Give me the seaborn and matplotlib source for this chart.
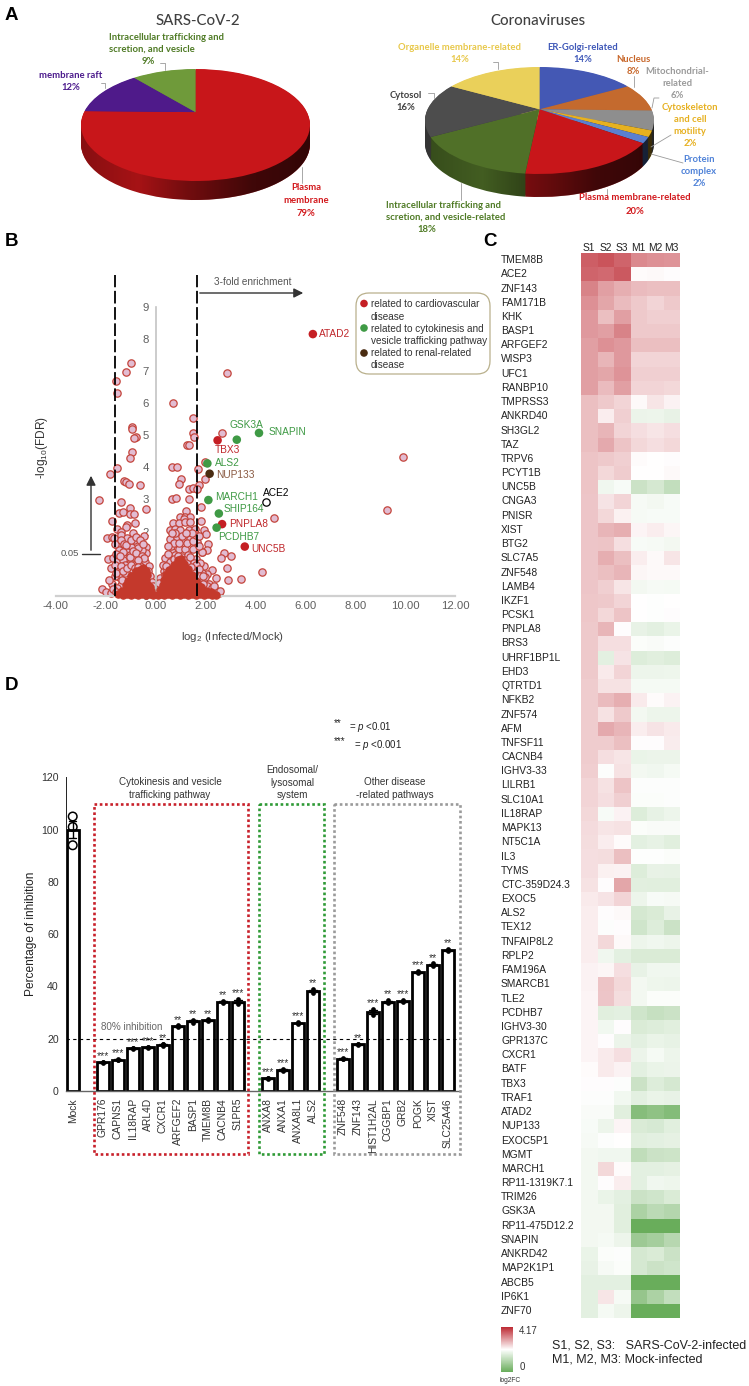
import numpy as np
import pandas as pd
import matplotlib
matplotlib.use("Agg")
import matplotlib.pyplot as plt
import seaborn as sns
from matplotlib.colors import LinearSegmentedColormap, to_rgb
from matplotlib.patches import Rectangle, FancyBboxPatch, PathPatch
from matplotlib.path import Path

# ---------- panel A data
sars_labels = ["Plasma membrane", "membrane raft", "Intracellular trafficking"]
sars_values = [79, 12, 9]
sars_colors = ["#c8161a", "#4f1a8a", "#6f9a3a"]
cov_labels = ["ER-Golgi", "Nucleus", "Mitochondrial", "Cytoskeleton", "Protein complex",
              "Plasma membrane", "Intracellular", "Cytosol", "Organelle"]
cov_values = [14, 8, 6, 2, 2, 20, 18, 16, 14]
cov_colors = ["#4458b4", "#c46a2e", "#8e8e8e", "#e6b120", "#5a80d0",
              "#c8161a", "#507028", "#4d4d4d", "#ead05a"]

# ---------- panel B data
sparse_pts = [
    (-1.0, 7.24), (-1.19, 6.98), (-1.59, 6.69), (-1.57, 6.31), (-0.94, 5.24), (-0.94, 5.2), (-0.8, 4.94),
    (-0.88, 4.9), (-0.96, 4.47), (-1.02, 4.3), (-1.54, 3.99), (-1.85, 3.79), (-1.29, 3.58), (-1.2, 3.55),
    (-1.06, 3.47), (-0.64, 3.45), (-2.28, 2.99), (-1.39, 2.93), (-1.02, 2.74), (-0.39, 2.69), (-1.46, 2.59),
    (-1.3, 2.6), (-1.04, 2.54), (-0.87, 2.54), (-1.77, 2.33), (-0.82, 2.27), (-1.15, 2.2), (-1.55, 2.08),
    (-1.2, 2.13), (-1.97, 1.81), (-1.74, 1.82), (-1.39, 1.99), (-0.92, 1.94), (-1.68, 1.81), (-1.41, 1.89),
    (-1.15, 1.81), (-0.48, 1.86), (-1.55, 1.58), (-1.48, 1.42), (-1.08, 1.54), (-0.95, 1.52), (-1.92, 1.13),
    (-1.72, 1.19), (-1.51, 1.08), (-1.32, 1.11), (-1.78, 0.87), (-1.48, 0.8), (-1.75, 0.38), (-1.48, 0.59),
    (-1.15, 1.37), (-0.75, 1.63), (-0.41, 1.52), (-0.41, 1.32), (-0.68, 1.26), (-1.41, 0.33), (-1.08, 1.0),
    (-0.81, 1.0), (-2.15, 0.21), (-1.98, 0.12), (-1.81, 0.07), (-1.25, 0.72), (-1.02, 1.28), (-0.88, 1.22),
    (-0.58, 1.1), (-0.42, 1.05), (-0.55, 1.42), (-0.7, 1.48), (-0.28, 0.92), (-1.62, 0.62), (-1.55, 0.24),
    (-0.86, 1.72), (-0.62, 0.92), (-0.95, 0.82), (-1.22, 0.95), (-1.35, 0.5),
    (-1.62, 1.62), (-1.38, 1.75), (-1.28, 1.62), (-1.18, 1.58), (-0.98, 1.72), (-0.78, 1.82), (-0.62, 1.72),
    (-0.52, 1.62), (-1.3, 1.35), (-1.05, 1.2), (-0.92, 1.38), (-0.78, 1.32), (-0.55, 1.25), (-0.47, 1.18),
    (-0.72, 1.12), (-1.6, 1.3), (-1.42, 1.25), (-1.65, 0.95), (-1.58, 0.72), (-1.38, 0.92), (-1.3, 0.78),
    (-1.15, 0.85), (-0.98, 0.95), (-0.85, 0.85), (-0.7, 0.9), (-0.3, 0.78), (-0.23, 0.62), (-0.14, 0.42),
    (-0.1, 0.3), (-1.88, 0.5), (-1.7, 0.2), (-1.6, 0.1),
    (0.71, 5.99), (2.86, 6.95), (1.51, 5.53), (1.51, 5.08), (1.53, 4.93), (2.65, 5.07), (1.26, 4.7),
    (1.34, 4.7), (1.97, 4.18), (0.64, 4.0), (0.84, 4.0), (1.69, 3.94), (1.0, 3.62), (1.97, 3.63),
    (0.92, 3.47), (1.74, 3.45), (1.34, 3.32), (1.49, 3.36), (1.66, 3.31), (0.67, 3.02), (0.83, 3.05),
    (1.34, 3.01), (1.81, 2.75), (1.22, 2.65), (0.98, 2.46), (1.16, 2.46), (1.39, 2.46), (4.75, 2.43),
    (9.28, 2.66), (9.92, 4.31), (4.28, 0.74), (3.41, 0.51), (2.88, 0.49), (2.85, 0.87), (3.0, 1.24),
    (2.74, 1.32), (2.6, 1.18), (2.1, 1.6), (2.06, 1.42), (1.85, 1.35), (1.81, 2.33), (1.13, 2.38),
    (0.7, 2.27), (0.92, 2.25), (1.19, 2.3), (1.39, 2.3), (0.56, 2.04), (0.79, 2.09), (0.99, 2.04),
    (1.33, 2.06), (1.59, 2.09), (1.93, 2.04), (0.59, 1.78), (0.86, 1.83), (1.13, 1.73), (1.39, 1.78),
    (1.66, 1.68), (1.86, 1.37), (2.0, 1.92), (0.39, 1.16), (0.66, 1.37), (0.92, 1.47), (1.19, 1.47),
    (1.5, 1.47), (0.59, 1.06), (0.32, 0.76), (0.19, 0.54), (0.46, 0.8), (1.66, 0.85), (1.93, 0.92),
    (2.26, 0.8), (2.06, 0.69), (2.4, 0.54), (2.13, 0.38), (2.53, 0.07), (2.33, 0.09), (2.0, 0.22),
    (1.79, 0.48), (2.46, 0.15), (2.57, 0.16), (2.2, 0.14), (0.78, 1.28), (1.05, 1.22), (1.3, 1.27),
    (1.45, 1.12), (1.62, 1.15), (1.77, 1.02), (1.98, 0.58), (1.84, 0.72), (0.5, 1.3), (0.25, 0.3),
    (0.28, 0.95), (0.42, 0.92), (0.38, 0.65), (0.15, 0.4), (0.75, 1.15), (0.9, 1.25), (1.02, 1.1),
    (1.15, 1.1), (1.25, 1.02), (1.38, 1.2), (1.52, 1.02), (1.6, 0.95), (1.75, 0.82), (1.72, 0.62),
    (1.9, 0.62), (1.55, 0.7), (1.42, 0.88), (0.6, 1.55), (0.75, 1.65), (0.95, 1.65), (1.05, 1.85),
    (1.25, 1.65), (1.5, 1.7), (1.62, 1.9), (1.75, 1.85), (1.72, 1.55), (1.45, 1.95), (1.22, 1.95),
    (0.78, 1.95), (0.65, 1.95), (0.48, 1.55), (2.05, 0.3), (2.25, 0.25), (2.35, 0.3), (1.9, 0.35), (2.1, 0.12),
]
dense_pts = [
    (-1.5, 0.04), (-1.32, 0.02), (-1.16, 0.05), (-1.0, 0.03), (-0.85, 0.06), (-0.7, 0.03), (-0.55, 0.05), (-0.4, 0.02),
    (-0.25, 0.05), (-0.12, 0.03), (-1.25, 0.14), (-1.08, 0.2), (-0.92, 0.17), (-0.77, 0.2), (-0.62, 0.16), (-0.47, 0.2),
    (-0.32, 0.17), (-0.18, 0.16), (-1.02, 0.33), (-0.86, 0.36), (-0.72, 0.33), (-0.58, 0.36), (-0.44, 0.32), (-0.3, 0.34),
    (-0.22, 0.28), (-0.94, 0.48), (-0.78, 0.5), (-0.65, 0.5), (-0.52, 0.52), (-0.38, 0.5), (-0.72, 0.65), (-0.6, 0.68),
    (-0.48, 0.7), (-0.36, 0.64), (-1.35, 0.15), (-1.18, 0.32), (-1.1, 0.45), (-1.0, 0.62), (-0.85, 0.65), (-0.8, 0.78),
    (-0.62, 0.8), (-0.5, 0.85), (-0.4, 0.78),
    (0.08, 0.03), (0.2, 0.05), (0.34, 0.03), (0.5, 0.05), (0.66, 0.02), (0.82, 0.05), (0.98, 0.03), (1.14, 0.05),
    (1.3, 0.02), (1.46, 0.05), (1.62, 0.03), (1.78, 0.05), (1.95, 0.02), (2.1, 0.05), (2.25, 0.03), (2.4, 0.02),
    (0.18, 0.17), (0.32, 0.2), (0.47, 0.17), (0.62, 0.2), (0.78, 0.16), (0.94, 0.2), (1.1, 0.17), (1.26, 0.2),
    (1.42, 0.16), (1.58, 0.2), (1.74, 0.17), (1.88, 0.15), (0.3, 0.34), (0.45, 0.36), (0.6, 0.33), (0.75, 0.37),
    (0.9, 0.33), (1.06, 0.36), (1.22, 0.33), (1.38, 0.36), (1.54, 0.32), (1.68, 0.32), (0.42, 0.5), (0.58, 0.52),
    (0.73, 0.49), (0.88, 0.52), (1.04, 0.49), (1.2, 0.52), (1.36, 0.49), (1.5, 0.5), (0.52, 0.66), (0.68, 0.68),
    (0.84, 0.65), (1.0, 0.68), (1.16, 0.65), (1.32, 0.66), (0.66, 0.82), (0.82, 0.82), (0.98, 0.84), (1.14, 0.81),
    (0.86, 0.98), (1.0, 1.0), (0.35, 0.5), (0.4, 0.65), (0.55, 0.8), (0.72, 0.95), (1.0, 1.15), (1.15, 0.98),
    (1.3, 0.82), (1.45, 0.65), (1.62, 0.45), (1.8, 0.28), (2.0, 0.15), (2.2, 0.12), (0.9, 1.12),
]
marked_genes = ["ATAD2", "TBX3", "PNPLA8", "UNC5B", "SNAPIN", "GSK3A", "ALS2", "MARCH1", "SHIP164", "PCDHB7", "NUP133"]
marked_x = [6.3, 2.48, 2.66, 3.57, 4.14, 3.25, 2.07, 2.11, 2.53, 2.44, 2.16]
marked_y = [8.15, 4.84, 2.23, 1.53, 5.07, 4.86, 4.12, 2.98, 2.56, 2.12, 3.8]
marked_group = ["cardio", "cardio", "cardio", "cardio", "cyto", "cyto", "cyto", "cyto", "cyto", "cyto", "renal"]
ace2_x = [4.42]
ace2_y = [2.91]

# ---------- panel C data, signed percent of the colour scale (0 = white)
genes = ["TMEM8B", "ACE2", "ZNF143", "FAM171B", "KHK", "BASP1", "ARFGEF2", "WISP3", "UFC1", "RANBP10", "TMPRSS3",
         "ANKRD40", "SH3GL2", "TAZ", "TRPV6", "PCYT1B", "UNC5B", "CNGA3", "PNISR", "XIST", "BTG2", "SLC7A5", "ZNF548",
         "LAMB4", "IKZF1", "PCSK1", "PNPLA8", "BRS3", "UHRF1BP1L", "EHD3", "QTRTD1", "NFKB2", "ZNF574", "AFM",
         "TNFSF11", "CACNB4", "IGHV3-33", "LILRB1", "SLC10A1", "IL18RAP", "MAPK13", "NT5C1A", "IL3", "TYMS",
         "CTC-359D24.3", "EXOC5", "ALS2", "TEX12", "TNFAIP8L2", "RPLP2", "FAM196A", "SMARCB1", "TLE2", "PCDHB7",
         "IGHV3-30", "GPR137C", "CXCR1", "BATF", "TBX3", "TRAF1", "ATAD2", "NUP133", "EXOC5P1", "MGMT", "MARCH1",
         "RP11-1319K7.1", "TRIM26", "GSK3A", "RP11-475D12.2", "SNAPIN", "ANKRD42", "MAP2K1P1", "ABCB5", "IP6K1", "ZNF70"]
S1 = [75, 72, 58, 52, 48, 48, 45, 45, 45, 45, 30, 30, 30, 30, 28, 28, 28, 27, 27, 27, 27, 27, 27, 27, 26, 26, 25, 25, 25, 25, 24, 24, 24, 24, 24, 24, 23, 20, 20, 18, 17, 16, 15, 15, 14, 10, 8, 8, 8, 8, 6, 6, 5, 5, 5, 5, 5, 2, 1, -2, -4, -5, -6, -8, -8, -8, -8, -8, -8, -8, -14, -15, -18, -18, -18]
S2 = [80, 70, 45, 42, 30, 45, 52, 35, 42, 32, 25, 8, 35, 40, 25, 18, -10, 13, 18, 35, 28, 38, 30, 22, 25, 18, 35, 15, -18, 10, 14, 32, 14, 40, 24, 15, -2, 14, 15, -5, 12, 8, 16, 7, 1, 13, 1, -2, 18, -10, 4, 28, 27, -20, -9, 1, 10, 10, 1, -2, -4, -12, -2, -10, 18, 1, -14, -8, -8, -7, -3, -6, -18, 12, -7]
S3 = [72, 78, 38, 32, 45, 58, 48, 48, 50, 45, 20, 22, 20, 28, 22, 24, -5, 20, 7, 38, 15, 30, 35, 12, 20, 28, 1, 15, 13, 20, 14, 38, 25, 35, 30, 12, 14, 28, 22, 6, 14, 2, 30, 6, 42, 20, 3, 1, 3, -18, 15, 18, 16, -18, 1, -13, 15, 6, -2, -9, -20, 5, 0, -10, 2, 8, -18, -20, -20, -12, -2, -3, -18, -6, -12]
M1 = [55, 2, 32, 25, 25, 25, 30, 20, 22, 20, 3, -13, 15, 18, 2, 0, -35, -6, -6, 5, -5, 8, 4, -8, 0, 0, -15, -3, -22, -12, -7, 10, -8, 8, 1, -14, -8, -2, -3, -22, -3, -18, -1, -22, -19, -12, -28, -32, -12, -25, -15, -8, -8, -32, -25, -18, -13, -18, -35, -18, -80, -25, -20, -42, -18, -18, -35, -55, -100, -65, -28, -28, -100, -70, -100]
M2 = [52, 3, 30, 20, 22, 25, 30, 20, 22, 20, 12, -12, 12, 15, 0, 0, -28, -8, -5, 8, -6, 3, 3, -6, -1, -1, -18, -4, -20, -12, -7, 2, -12, 13, 1, -13, -10, -2, -3, -16, -4, -16, -1, -15, -20, -5, -25, -22, -10, -25, -10, -11, -3, -38, -22, -14, -7, -14, -22, -14, -75, -27, -18, -35, -18, -10, -32, -45, -100, -60, -25, -35, -100, -55, -100]
M3 = [50, 1, 30, 25, 22, 25, 30, 20, 22, 18, 6, -15, 15, 18, 1, 3, -40, -5, -5, 4, -8, 12, 3, -7, 0, 1, -14, -2, -22, -11, -7, 6, -12, 10, 9, -13, -7, -2, -2, -12, -4, -20, -3, -16, -20, -6, -15, -35, -12, -25, -10, -12, -3, -35, -20, -16, -12, -13, -28, -15, -82, -20, -17, -33, -17, -11, -25, -50, -100, -48, -35, -32, -100, -40, -100]
samples = ["S1", "S2", "S3", "M1", "M2", "M3"]
FC_MAX = 4.17

# ---------- panel D data
bar_genes = ["Mock", "GPR176", "CAPNS1", "IL18RAP", "ARL4D", "CXCR1", "ARFGEF2", "BASP1", "TMEM8B", "CACNB4", "S1PR5",
             "ANXA8", "ANXA1", "ANXA8L1", "ALS2", "ZNF548", "ZNF143", "HIST1H2AL", "CGGBP1", "GRB2", "POGK", "XIST", "SLC25A46"]
rep1 = [105, 10.8, 11.7, 16.0, 16.3, 17.4, 24.4, 26.2, 26.7, 33.8, 33.2, 4.5, 7.6, 25.7, 37.4, 12.1, 17.5, 29.0, 33.5, 34.0, 45.2, 47.9, 53.4]
rep2 = [101, 11.2, 12.2, 16.6, 17.0, 18.1, 25.1, 27.3, 27.4, 34.6, 35.2, 5.1, 8.4, 26.3, 39.0, 12.7, 18.1, 31.5, 34.9, 34.7, 45.8, 48.8, 54.3]
rep3 = [94, 11.0, 12.0, 16.3, 16.7, 17.8, 24.9, 26.8, 27.0, 34.2, 34.2, 4.8, 8.0, 26.0, 38.2, 12.4, 17.8, 30.6, 34.2, 34.3, 45.5, 48.3, 53.8]
bar_stars = ["", "***", "***", "***", "***", "**", "**", "**", "**", "**", "***",
             "***", "***", "***", "**", "***", "**", "***", "**", "***", "***", "**", "**"]

W, H = 749, 1386

sns.set_theme(style="white")
plt.rcParams["font.family"] = ["Liberation Sans", "DejaVu Sans"]
plt.rcParams["mathtext.fontset"] = "custom"
plt.rcParams["mathtext.rm"] = "Liberation Sans"
plt.rcParams["mathtext.it"] = "Liberation Sans:italic"

fig = plt.figure(figsize=(W / 100, H / 100), dpi=100)


# axes from a box in picture pixels
def px_axes(x0, y0, x1, y1, **kw):
    return fig.add_axes([x0 / W, 1 - y1 / H, (x1 - x0) / W, (y1 - y0) / H], **kw)


def darker(col, f):
    return tuple(c * f for c in to_rgb(col))


# 3D looking pie: stacked dark pies for the side, then the top one
def draw_pie(ax, values, colors, depth, apex):
    flat = {"linewidth": 0, "edgecolor": "none"}
    steps = np.linspace(depth, 0.01, 24)
    side_cols = [darker(c, 0.9) for c in colors]
    for d in steps:
        ax.pie(values, colors=side_cols, startangle=90, counterclock=False, center=(0, -d), radius=1, wedgeprops=flat)
    # shade the side from left to right
    grad = np.zeros((1, 256, 4))
    grad[0, :, 3] = np.interp(np.linspace(0, 1, 256), [0, 0.25, 0.45, 0.75, 1], [0.25, 0.08, 0.35, 0.65, 0.72])
    im = ax.imshow(grad, extent=(-1, 1, -1 - depth, 0), aspect="auto", zorder=3)
    th = np.linspace(np.pi, 2 * np.pi, 80)
    clip_xy = np.vstack([np.c_[np.cos(th), np.sin(th) - depth], [[1, 0], [-1, 0], [-1, -depth]]])
    clip = PathPatch(Path(clip_xy), transform=ax.transData, fc="none", ec="none")
    ax.add_patch(clip)
    im.set_clip_path(clip)
    wedges, _ = ax.pie(values, colors=colors, startangle=90, counterclock=False, radius=1, wedgeprops=flat)
    for w in wedges:
        w.set_zorder(4)
        # the apex sits above the ellipse centre because of the tilt
        w.get_path().vertices[-2:] += [0, apex]
    ax.set_aspect("auto")
    ax.set_xlim(-1, 1)
    ax.set_ylim(-1 - depth, 1)
    ax.axis("off")


ax_p1 = px_axes(81, 69, 310, 200)
draw_pie(ax_p1, sars_values, sars_colors, 19 / 56, 0.23)
ax_p2 = px_axes(425, 67, 654, 197)
draw_pie(ax_p2, cov_values, cov_colors, 23 / 53.5, 0.21)

# ---------- panel B volcano, the packed points at the bottom cover the open ones
ax_v = px_axes(56, 270, 455, 595.7)
sparse_df = pd.DataFrame(sparse_pts, columns=["x", "y"])
dense_df = pd.DataFrame(dense_pts, columns=["x", "y"])
sns.scatterplot(data=sparse_df, x="x", y="y", ax=ax_v, s=28, color="#e2bcd2", edgecolor="#c4453c",
                linewidth=0.9, clip_on=False, zorder=2)
sns.scatterplot(data=dense_df, x="x", y="y", ax=ax_v, s=28, color="#c4392c", edgecolor="#c4392c",
                linewidth=0.8, clip_on=False, zorder=3)
marked_df = pd.DataFrame({"x": marked_x, "y": marked_y, "group": marked_group})
sns.scatterplot(data=marked_df, x="x", y="y", hue="group", ax=ax_v, s=38, linewidth=0, legend=False, zorder=4,
                palette={"cardio": "#c51f24", "cyto": "#3f9a45", "renal": "#4a2c12"})
sns.scatterplot(x=ace2_x, y=ace2_y, ax=ax_v, s=28, color="white", edgecolor="black", linewidth=0.9, zorder=4)
ax_v.set_xlim(-4, 12)
ax_v.set_ylim(0, (595.7 - 270) / 32.1)
ax_v.patch.set_alpha(0)
ax_v.vlines([-1.63, 1.66], 0, 10.0, color="black", lw=1.3, linestyles=(0, (7, 2)), zorder=5)
ax_v.spines["left"].set_position(("data", 0))
ax_v.spines["left"].set_bounds(0, 9)
ax_v.spines["left"].set_color("#c4c4c4")
ax_v.spines["left"].set_linewidth(1.2)
ax_v.spines["bottom"].set_color("#d0d0d0")
ax_v.spines["bottom"].set_linewidth(1.6)
ax_v.spines["top"].set_visible(False)
ax_v.spines["right"].set_visible(False)
ax_v.set_xticks(range(-4, 13, 2), [f"{v:.2f}" for v in range(-4, 13, 2)])
ax_v.set_yticks(range(0, 10))
ax_v.tick_params(axis="both", length=0, labelcolor="#5f5f5f", labelsize=8.2)
ax_v.tick_params(axis="y", pad=5)
ax_v.tick_params(axis="x", pad=4)
ax_v.set_xlabel("")
ax_v.set_ylabel("")

# ---------- panel C heatmap
heat = (np.array([S1, S2, S3, M1, M2, M3]).T + 100) / 200 * FC_MAX
heat_df = pd.DataFrame(heat, index=genes, columns=samples)
cmap = LinearSegmentedColormap.from_list("gwr", ["#69ad5b", "#ffffff", "#bd2a33"])
ax_h = px_axes(581, 253, 680, 1318)
ax_cb = px_axes(501, 1327, 513, 1372)
sns.heatmap(heat_df, ax=ax_h, cmap=cmap, vmin=0, vmax=FC_MAX, cbar_ax=ax_cb, xticklabels=True, yticklabels=True,
            cbar_kws={"ticks": []})
ax_h.xaxis.tick_top()
ax_h.tick_params(axis="x", length=0, pad=0, labelsize=7.4, labelcolor="#222222", rotation=0)
ax_h.tick_params(axis="y", length=0, pad=57.6, labelsize=7.4, labelcolor="#222222", rotation=0)
for lab in ax_h.get_yticklabels():
    lab.set_ha("left")
ax_h.set_xlabel("")
ax_h.set_ylabel("")
ax_cb.collections[0].set_edgecolor("face")
for s in ax_cb.spines.values():
    s.set_visible(False)

# ---------- panel D bars, empty slots keep the gaps between the groups
slots = bar_genes[:1] + [" "] + bar_genes[1:11] + ["  "] + bar_genes[11:15] + ["   "] + bar_genes[15:]
bar_df = pd.DataFrame({"gene": bar_genes * 3, "value": rep1 + rep2 + rep3})
ax_b = px_axes(65.7, 777.3, 460, 1091)
sns.barplot(data=bar_df, x="gene", y="value", order=slots, ax=ax_b, color="white", saturation=1, width=0.82,
            edgecolor="black", linewidth=2, errorbar="se", capsize=0.5, err_kws={"color": "black", "linewidth": 1})
sns.stripplot(data=bar_df[bar_df.gene != "Mock"], x="gene", y="value", order=slots, ax=ax_b, jitter=False,
              color="black", size=3.4, zorder=5)
ax_b.scatter([0, 0, 0], [rep1[0], rep2[0], rep3[0]], s=38, fc="none", ec="black", lw=1.1, zorder=6)
ax_b.axhline(20, color="black", lw=0.8, ls=(0, (3, 3)), clip_on=False)
for g, st, a, b, c in zip(bar_genes, bar_stars, rep1, rep2, rep3):
    if st:
        ax_b.text(slots.index(g), max(a, b, c) + 2.2, st, ha="center", va="center", fontsize=7.5, color="#333333")
ax_b.set_xlim(-0.467, 25.8)
ax_b.set_ylim(0, 120)
ax_b.set_yticks(range(0, 121, 20))
ax_b.set_xlabel("")
ax_b.set_ylabel("Percentage of inhibition", fontsize=8.6, color="#222222", labelpad=3)
ax_b.tick_params(axis="y", length=0, labelsize=7.6, labelcolor="#333333", pad=5)
ax_b.tick_params(axis="x", length=0, labelsize=7.4, labelcolor="#333333", rotation=90, pad=5)
ax_b.spines["top"].set_visible(False)
ax_b.spines["right"].set_visible(False)
ax_b.spines["left"].set_color("#222222")
ax_b.spines["left"].set_linewidth(0.7)
ax_b.spines["bottom"].set_color("#666666")
ax_b.spines["bottom"].set_linewidth(1)
ax_b.patch.set_alpha(0)

# ---------- everything placed by hand goes on a page layer in pixel coordinates
page = fig.add_axes([0, 0, 1, 1], zorder=20)
page.set_xlim(0, W)
page.set_ylim(H, 0)
page.axis("off")
page.patch.set_alpha(0)

for letter, x, y in [("A", 5, 16), ("B", 5, 241), ("C", 483, 241), ("D", 5, 686)]:
    page.text(x, y, letter, fontsize=13.5, fontweight="bold", color="black", va="center", ha="left")

# pie titles and labels
PF = "Lato"
page.text(198, 21, "SARS-CoV-2", family=PF, fontsize=10.8, fontweight="medium", color="#404040", ha="center", va="center")
page.text(538, 21, "Coronaviruses", family=PF, fontsize=10.8, fontweight="medium", color="#404040", ha="center", va="center")
G = "#4e7a24"
R = "#d2181c"
pie_texts = [
    (109, 37, "Intracellular trafficking and", G, "left"), (109, 49.5, "scretion, and vesicle", G, "left"), (148, 61, "9%", G, "center"),
    (71, 75, "membrane raft", "#4b1a8c", "center"), (71, 87, "12%", "#4b1a8c", "center"),
    (306, 188, "Plasma", R, "center"), (306, 200.5, "membrane", R, "center"), (306, 213, "79%", R, "center"),
    (460, 48, "Organelle membrane-related", "#e8c84a", "center"), (460, 60, "14%", "#e8c84a", "center"),
    (583, 48, "ER-Golgi-related", "#3f58b8", "center"), (583, 60, "14%", "#3f58b8", "center"),
    (633, 60, "Nucleus", "#c8682c", "center"), (633, 72, "8%", "#c8682c", "center"),
    (677, 71, "Mitochondrial-", "#9a9a9a", "center"), (677, 83, "related", "#9a9a9a", "center"), (677, 96, "6%", "#9a9a9a", "center"),
    (690, 107, "Cytoskeleton", "#e6b020", "center"), (690, 119, "and cell", "#e6b020", "center"), (690, 131, "motility", "#e6b020", "center"), (690, 143, "2%", "#e6b020", "center"),
    (699, 159, "Protein", "#4f82d8", "center"), (699, 172, "complex", "#4f82d8", "center"), (699, 184, "2%", "#4f82d8", "center"),
    (635, 198, "Plasma membrane-related", R, "center"), (635, 211, "20%", R, "center"),
    (386, 205, "Intracellular trafficking and", G, "left"), (386, 217, "scretion, and vesicle-related", G, "left"), (427, 230, "18%", G, "center"),
    (406, 95, "Cytosol", "#404040", "center"), (406, 107, "16%", "#404040", "center"),
]
for x, y, s, c, ha in pie_texts:
    page.text(x, y, s, family=PF, fontsize=6.8, fontweight="bold", color=c, ha=ha, va="center")

leaders = [[(160, 63), (165, 63), (165, 70)], [(101, 83), (105, 83), (105, 88)], [(302, 167), (302, 183)],
           [(493, 62), (498, 62), (498, 69)], [(634, 76), (634, 87)], [(659, 98), (654, 98), (652, 108)],
           [(428, 93), (434, 93), (434, 98)], [(671, 135), (651, 147)], [(651, 154), (683, 163)],
           [(607, 189), (607, 197)], [(461, 183), (461, 200)]]
for pts in leaders:
    xs, ys = zip(*pts)
    page.plot(xs, ys, color="#9a9a9a", lw=0.6)

# volcano annotation
TXT = 7.3
for s, x, y, c in [("ATAD2", 319, 334, "#c0282c"), ("TBX3", 215, 450, "#c0282c"), ("GSK3A", 230, 425, "#3f9a45"),
                   ("SNAPIN", 269, 432, "#3f9a45"), ("ALS2", 215, 462.5, "#3f9a45"), ("NUP133", 216, 474.5, "#8a5a42"),
                   ("MARCH1", 215, 497, "#3f9a45"), ("ACE2", 263, 493.5, "black"), ("SHIP164", 224, 509.5, "#3f9a45"),
                   ("PNPLA8", 229, 524, "#c0282c"), ("PCDHB7", 218, 536.5, "#3f9a45"), ("UNC5B", 251, 549, "#c0282c")]:
    page.text(x, y, s, fontsize=TXT, color=c, ha="left", va="center")
page.annotate("", xy=(306, 293), xytext=(197, 293), arrowprops=dict(arrowstyle="-|>", color="#333333", lw=1, mutation_scale=14))
page.text(253, 282, "3-fold enrichment", fontsize=7.2, color="#555555", ha="center", va="center")
page.annotate("", xy=(91, 473), xytext=(91, 553), arrowprops=dict(arrowstyle="-|>", color="#333333", lw=1, mutation_scale=14))
page.plot([82, 100], [553.5, 553.5], color="#333333", lw=1)
page.text(70, 554, "0.05", fontsize=6.8, color="#555555", ha="center", va="center")
page.text(42, 447, "-log$_{10}$(FDR)", fontsize=8.6, color="#333333", rotation=90, ha="center", va="center")
page.text(232, 637, "log$_{2}$ (Infected/Mock)", fontsize=8.2, color="#444444", ha="center", va="center")
page.add_patch(FancyBboxPatch((358, 295), 130, 77, boxstyle="round,pad=2,rounding_size=13", fc="white", ec="#b9b08c", lw=0.9))
page.scatter([364, 364, 364], [303.5, 328, 353], s=30, c=["#c51f24", "#3f9a45", "#4a2c12"], lw=0, zorder=3)
for y, s in [(304, "related to cardiovascular"), (316.5, "disease"), (328.5, "related to cytokinesis and"),
             (340.5, "vesicle trafficking pathway"), (352.5, "related to renal-related"), (364.5, "disease")]:
    page.text(371, y, s, fontsize=7.2, color="#333333", ha="left", va="center")

# heatmap legend
page.text(519, 1331, "4.17", fontsize=7, color="#333333", ha="left", va="center")
page.text(520, 1367, "0", fontsize=7, color="#333333", ha="left", va="center")
page.text(500, 1380.5, "log2FC", fontsize=4.8, color="#333333", ha="left", va="center")
page.text(552, 1345, "S1, S2, S3:   SARS-CoV-2-infected", fontsize=9, color="#222222", ha="left", va="center")
page.text(552, 1360, "M1, M2, M3: Mock-infected", fontsize=9, color="#222222", ha="left", va="center")

# bar panel boxes and headers
for x0, x1, c in [(94, 248, "#c8202a"), (259, 324, "#2f9a36"), (334, 460, "#9a9a9a")]:
    page.add_patch(Rectangle((x0, 804), x1 - x0, 350, fc="none", ec=c, lw=1.9, ls=(0, (1, 1))))
for x, y, s in [(170, 782, "Cytokinesis and vesicle"), (170, 794.5, "trafficking pathway"), (292, 770, "Endosomal/"),
                (292, 782.5, "lysosomal"), (292, 794.5, "system"), (395, 782, "Other disease"), (395, 794.5, "-related pathways")]:
    page.text(x, y, s, fontsize=7.1, color="#333333", ha="center", va="center")
page.text(131.5, 1027, "80% inhibition", fontsize=7.1, color="#666666", ha="center", va="center")
page.text(334, 723, "**", fontsize=7, color="#222222", ha="left", va="center")
page.text(349, 727.5, "= $\\mathit{p}$ <0.01", fontsize=7, color="#222222", ha="left", va="center")
page.text(334, 741, "***", fontsize=7, color="#222222", ha="left", va="center")
page.text(354, 745.5, "= $\\mathit{p}$ <0.001", fontsize=7, color="#222222", ha="left", va="center")

fig.savefig("out.png", dpi=100)
